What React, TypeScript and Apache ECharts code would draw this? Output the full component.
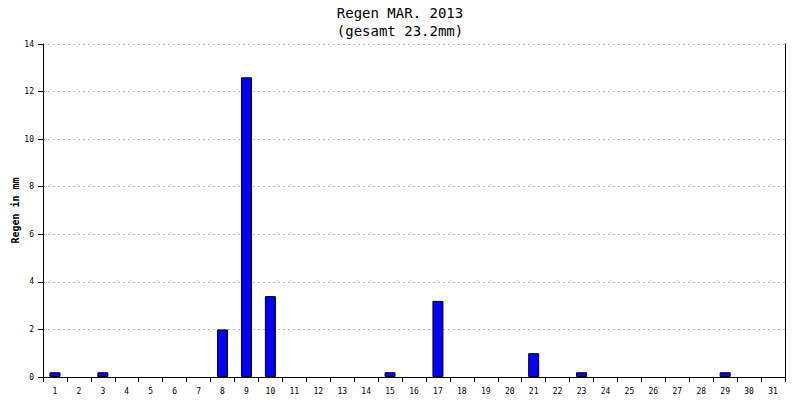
import React from 'react';
import { useEffect, useRef } from 'react';
import * as echarts from 'echarts';

// Tage im März 2013
const days = Array.from({ length: 31 }, (_, i) => String(i + 1));
// Niederschlag pro Tag in mm
const rain = [
  0.2, 0, 0.2, 0, 0, 0, 0, 2.0, 12.6, 3.4,
  0, 0, 0, 0, 0.2, 0, 3.2, 0, 0, 0,
  1.0, 0, 0.2, 0, 0, 0, 0, 0, 0.2, 0, 0,
];
const titleLines = ['Regen MAR. 2013', '(gesamt 23.2mm)'];
const yName = 'Regen in mm';

const FONT = '"DejaVu Sans Mono", monospace';

const App: React.FC = () => {
  const chartRef = useRef<HTMLDivElement>(null);

  useEffect(() => {
    if (!chartRef.current) return;
    const chart = echarts.init(chartRef.current, undefined, { renderer: 'svg' });

    const option = {
      animation: false,
      backgroundColor: '#ffffff',
      title: {
        text: titleLines.join('\n'),
        left: 'center',
        top: -1,
        textStyle: {
          fontFamily: FONT,
          fontSize: 14,
          fontWeight: 'normal',
          color: '#000',
          lineHeight: 18,
        },
      },
      grid: {
        left: 43,
        right: 15,
        top: 44,
        bottom: 23,
        containLabel: false,
        outerBoundsMode: 'none',
      },
      xAxis: {
        type: 'category',
        data: days,
        boundaryGap: true,
        axisLine: { lineStyle: { color: '#000', width: 1 } },
        axisTick: { show: true, length: 5, lineStyle: { color: '#000' } },
        axisLabel: {
          color: '#000',
          fontFamily: FONT,
          fontSize: 8,
          margin: 10,
          interval: 0,
        },
        splitLine: { show: false },
      },
      yAxis: [
        {
          type: 'value',
          min: 0,
          max: 14,
          interval: 2,
          name: yName,
          nameLocation: 'middle',
          nameGap: 23,
          nameMoveOverlap: false,
          nameTextStyle: {
            fontFamily: FONT,
            fontSize: 10,
            fontWeight: 'bold',
            color: '#000',
          },
          axisLine: { show: true, lineStyle: { color: '#000' } },
          axisTick: { show: true, length: 5, lineStyle: { color: '#000' } },
          axisLabel: { color: '#000', fontFamily: FONT, fontSize: 8, margin: 9 },
          splitLine: { show: true, lineStyle: { color: '#bbbbbb', type: [2, 3] } },
        },
        {
          type: 'value',
          min: 0,
          max: 14,
          interval: 2,
          position: 'right',
          axisLine: { show: true, lineStyle: { color: '#000' } },
          axisTick: { show: false },
          axisLabel: { show: false },
          splitLine: { show: false },
        },
      ],
      series: [
        {
          type: 'bar',
          // Tage ohne Regen zeichnen keinen Balken
          data: rain.map(v => (v === 0 ? '-' : v)),
          barWidth: 11,
          itemStyle: { color: '#0000ff', borderColor: '#000', borderWidth: 1 },
        },
      ],
    };

    chart.setOption(option);

    return () => {
      chart.dispose();
    };
  }, []);

  return (
    <div
      ref={chartRef}
      style={{ position: 'absolute', left: 0, top: 0, width: '800px', height: '400px' }}
    ></div>
  );
};

export default App;
